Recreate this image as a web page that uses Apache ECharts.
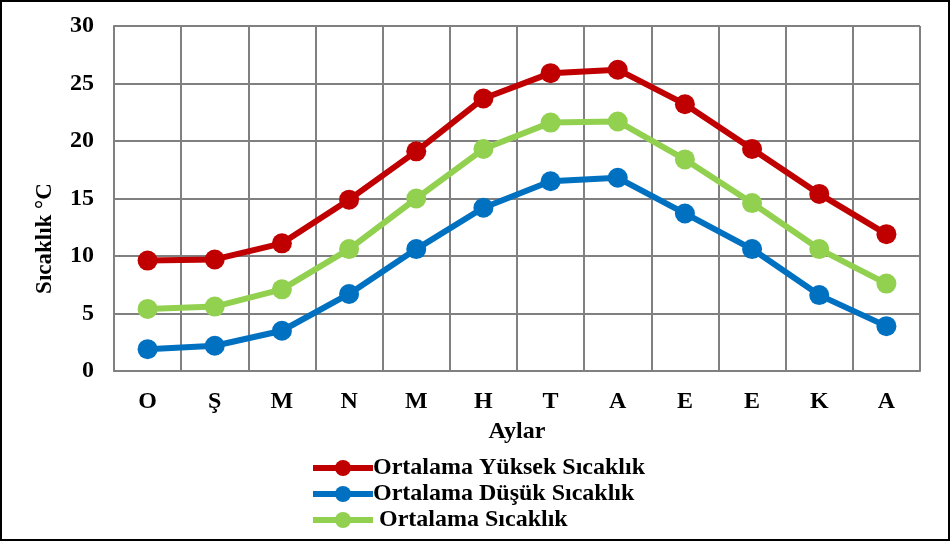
<!DOCTYPE html>
<html>
<head>
<meta charset="utf-8">
<script src="https://cdn.jsdelivr.net/npm/echarts@6/dist/echarts.min.js"></script>
<style>
  html, body { margin: 0; padding: 0; background: #fff; }
  #chart { width: 950px; height: 541px; box-sizing: border-box; border: 2px solid #000; }
</style>
</head>
<body>
<div id="chart"></div>
<script>
  // aylar (ay baş harfleri)
  var months = ['O', 'Ş', 'M', 'N', 'M', 'H', 'T', 'A', 'E', 'E', 'K', 'A'];
  var highTemp = [9.6, 9.7, 11.1, 14.9, 19.1, 23.7, 25.9, 26.2, 23.2, 19.3, 15.4, 11.9];
  var lowTemp = [1.9, 2.2, 3.5, 6.7, 10.6, 14.2, 16.5, 16.8, 13.7, 10.6, 6.6, 3.9];
  var avgTemp = [5.4, 5.6, 7.1, 10.6, 15.0, 19.3, 21.6, 21.7, 18.4, 14.6, 10.6, 7.6];
  var seriesNames = ['Ortalama Yüksek Sıcaklık', 'Ortalama Düşük Sıcaklık', ' Ortalama Sıcaklık'];

  var font = '"Liberation Serif", "Times New Roman", serif';
  var chart = echarts.init(document.getElementById('chart'));

  function line(name, data, color) {
    return {
      name: name,
      type: 'line',
      data: data,
      symbol: 'circle',
      symbolSize: 20,
      itemStyle: { color: color },
      lineStyle: { width: 6, color: color },
      emphasis: { disabled: true }
    };
  }

  chart.setOption({
    animation: false,
    textStyle: { fontFamily: font },
    grid: { left: 112, right: 28, top: 24, bottom: 168 },
    legend: {
      orient: 'vertical',
      left: 308,
      top: 454,
      height: 90,
      padding: 0,
      itemWidth: 60,
      itemHeight: 20,
      itemGap: 2,
      lineStyle: { width: 6 },
      textStyle: { fontFamily: font, fontWeight: 'bold', fontSize: 24, color: '#000', padding: [0, 0, 0, -5] },
      data: seriesNames
    },
    xAxis: {
      type: 'category',
      data: months,
      name: 'Aylar',
      nameLocation: 'middle',
      nameGap: 49,
      nameTextStyle: { fontFamily: font, fontWeight: 'bold', fontSize: 24, color: '#000' },
      axisLine: { lineStyle: { color: '#808080', width: 2 } },
      axisTick: { show: false },
      axisLabel: { fontFamily: font, fontWeight: 'bold', fontSize: 24, color: '#000', margin: 19 },
      splitLine: { show: true, interval: 0, lineStyle: { color: '#808080', width: 2 } }
    },
    yAxis: {
      type: 'value',
      min: 0,
      max: 30,
      interval: 5,
      name: 'Sıcaklık °C',
      nameLocation: 'middle',
      nameGap: 57,
      nameTextStyle: { fontFamily: font, fontWeight: 'bold', fontSize: 23, color: '#000', padding: [0, 80, 0, 0] },
      axisLine: { show: true, lineStyle: { color: '#808080', width: 2 } },
      axisTick: { show: false },
      axisLabel: { fontFamily: font, fontWeight: 'bold', fontSize: 24, color: '#000', margin: 20 },
      splitLine: { lineStyle: { color: '#808080', width: 2 } }
    },
    series: [
      line(seriesNames[0], highTemp, '#c00000'),
      line(seriesNames[1], lowTemp, '#0070c0'),
      line(seriesNames[2], avgTemp, '#92d050')
    ]
  });
</script>
</body>
</html>
